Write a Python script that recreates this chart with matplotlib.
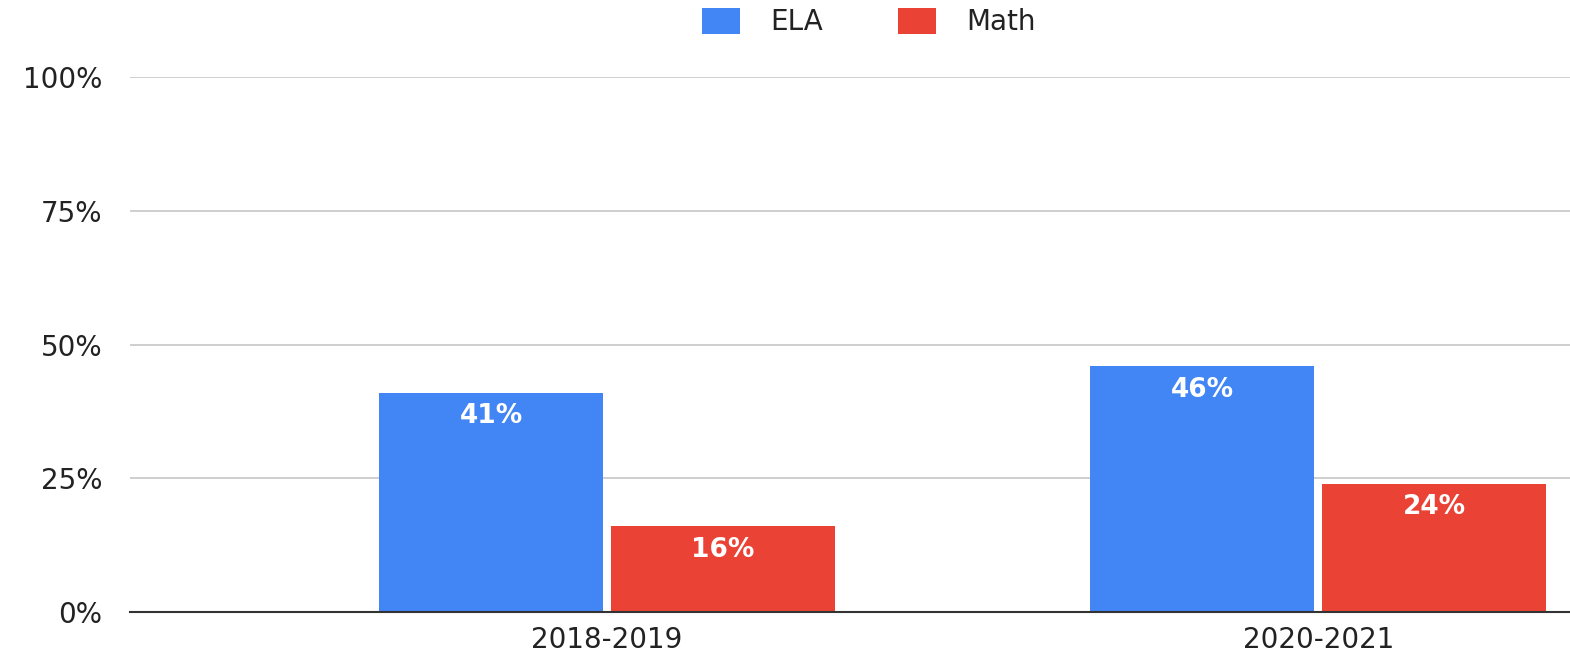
import matplotlib
matplotlib.use("Agg")
import matplotlib.pyplot as plt
import numpy as np
from matplotlib.ticker import FuncFormatter

# ── Data ──────────────────────────────────────────────────────────────────────
years = ["2018-2019", "2020-2021"]
ela = [0.41, 0.46]
math_ = [0.16, 0.24]
ela_labels = ["41%", "46%"]
math_labels = ["16%", "24%"]

BLUE = "#4285F4"
RED = "#EA4335"
FONT = "DejaVu Sans"

# ── Plot ──────────────────────────────────────────────────────────────────────
fig = plt.figure(figsize=(15.7, 6.52), dpi=100)
ax = fig.add_axes([130 / 1570, 40 / 652, 1440 / 1570, 535 / 652])

x = np.arange(len(years))
w = 0.315
off = 0.163

b1 = ax.bar(x - off, ela, w, color=BLUE, label="ELA", zorder=3)
b2 = ax.bar(x + off, math_, w, color=RED, label="Math", zorder=3)

for bars, labels in ((b1, ela_labels), (b2, math_labels)):
    for rect, lab in zip(bars, labels):
        ax.text(rect.get_x() + rect.get_width() / 2, rect.get_height() - 0.02, lab,
                ha="center", va="top", color="white", fontsize=19,
                fontweight="semibold", family=FONT, zorder=4)

ax.set_xlim(-0.671, 1.354)
ax.set_ylim(0, 1)
ax.set_yticks([0, 0.25, 0.5, 0.75, 1.0])
ax.yaxis.set_major_formatter(FuncFormatter(lambda v, _: f"{int(round(v * 100))}%"))
ax.set_xticks(x)
ax.set_xticklabels(years)
ax.tick_params(axis="both", length=0, labelsize=20, labelcolor="#222222")
ax.tick_params(axis="y", pad=20)
ax.tick_params(axis="x", pad=10)
for lab in ax.get_xticklabels() + ax.get_yticklabels():
    lab.set_family(FONT)

ax.grid(axis="y", color="#cccccc", linewidth=1.3, zorder=0)
for s in ("top", "right", "left"):
    ax.spines[s].set_visible(False)
ax.spines["bottom"].set_color("#333333")
ax.spines["bottom"].set_linewidth(1.5)
ax.spines["bottom"].set_zorder(5)

fig.legend(handles=[b1, b2], labels=["ELA", "Math"], loc="center",
           bbox_to_anchor=(869 / 1570, 1 - 22 / 652), ncol=2, frameon=False,
           prop={"family": FONT, "size": 20}, handlelength=1.35, handleheight=1.1,
           columnspacing=2.7, handletextpad=1.1, labelcolor="#222222")

fig.savefig("out.png", dpi=100)
